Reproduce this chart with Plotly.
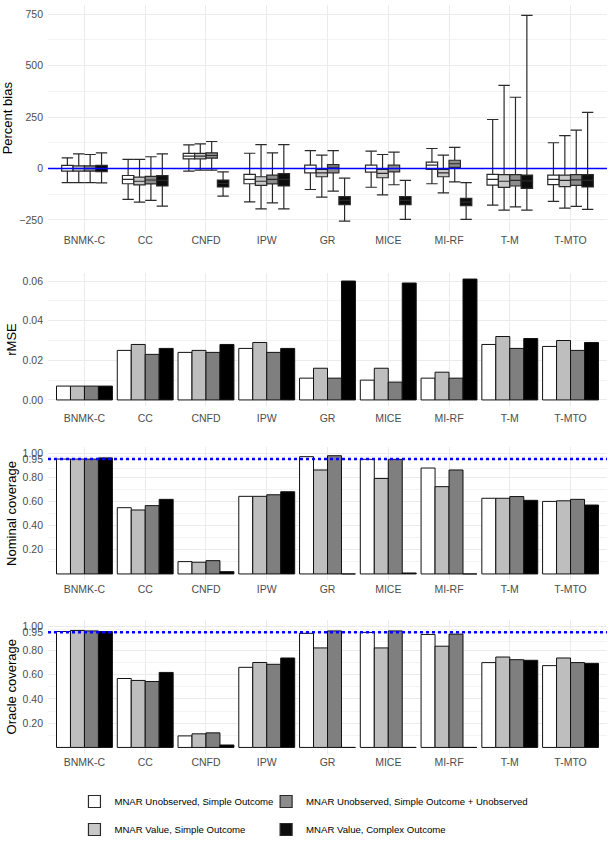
import plotly.graph_objects as go
from plotly.subplots import make_subplots

# Métodos (eixo x)
metodos = ["BNMK-C", "CC", "CNFD", "IPW", "GR", "MICE", "MI-RF", "T-M", "T-MTO"]

# Cenários
cenarios = ["MNAR Unobserved, Simple Outcome",
            "MNAR Value, Simple Outcome",
            "MNAR Unobserved, Simple Outcome + Unobserved",
            "MNAR Value, Complex Outcome"]

# Percent bias: mediana, q1, q3, whiskers
bias_med = [
    [0, -53, 60, -53, 0, 0, 16, -53, -53],
    [0, -62, 60, -62, -21, -24, -21, -62, -58],
    [0, -56, 63, -53, 6, 0, 23, -58, -55],
    [0, -58, -73, -53, -155, -155, -163, -60, -58],
]
bias_q1 = [
    [-13, -74, 47, -74, -21, -18, -5, -81, -78],
    [-13, -80, 47, -82, -40, -45, -40, -92, -88],
    [-13, -75, 50, -75, -21, -16, 5, -85, -82],
    [-15, -85, -90, -85, -175, -175, -180, -97, -90],
]
bias_q3 = [
    [15, -34, 73, -29, 16, 16, 31, -29, -32],
    [13, -42, 73, -40, -5, -5, -5, -30, -32],
    [13, -38, 76, -32, 19, 16, 40, -30, -30],
    [15, -35, -56, -25, -137, -137, -145, -32, -30],
]
bias_low = [
    [-69, -150, -13, -162, -102, -91, -74, -178, -160],
    [-69, -163, -8, -196, -139, -128, -118, -202, -192],
    [-69, -155, -8, -167, -110, -79, -65, -186, -184],
    [-70, -183, -134, -196, -256, -247, -247, -202, -199],
]
bias_high = [
    [52, 44, 115, 74, 87, 84, 97, 238, 125],
    [71, 44, 120, 116, 65, 68, 65, 404, 160],
    [68, 57, 131, 76, 87, 79, 103, 346, 186],
    [76, 71, -16, 116, -47, -58, -69, 744, 273],
]

# rRMSE
rmse = [
    [0.007, 0.025, 0.024, 0.026, 0.011, 0.010, 0.011, 0.028, 0.027],
    [0.007, 0.028, 0.025, 0.029, 0.016, 0.016, 0.014, 0.032, 0.030],
    [0.007, 0.023, 0.024, 0.024, 0.011, 0.009, 0.011, 0.026, 0.025],
    [0.007, 0.026, 0.028, 0.026, 0.060, 0.059, 0.061, 0.031, 0.029],
]

# Cobertura nominal
nominal = [
    [0.95, 0.548, 0.102, 0.642, 0.97, 0.948, 0.876, 0.626, 0.60],
    [0.95, 0.529, 0.097, 0.642, 0.86, 0.79, 0.722, 0.626, 0.605],
    [0.95, 0.565, 0.11, 0.655, 0.978, 0.948, 0.86, 0.64, 0.617],
    [0.96, 0.617, 0.019, 0.68, 0.0, 0.008, 0.0, 0.609, 0.57],
]

# Cobertura oracle
oracle = [
    [0.955, 0.568, 0.095, 0.66, 0.94, 0.948, 0.931, 0.699, 0.674],
    [0.964, 0.552, 0.112, 0.70, 0.82, 0.82, 0.834, 0.745, 0.737],
    [0.96, 0.543, 0.12, 0.685, 0.96, 0.96, 0.934, 0.723, 0.699],
    [0.955, 0.618, 0.02, 0.737, 0.0, 0.0, 0.0, 0.718, 0.693],
]

cores = ["#FFFFFF", "#BEBEBE", "#7F7F7F", "#000000"]
cores_box = ["rgba(255,255,255,0.8)", "rgba(190,190,190,0.85)",
             "rgba(127,127,127,0.9)", "rgba(0,0,0,0.95)"]
ordem_legenda = [1, 3, 2, 4]
legendas = ["legend", "legend", "legend2", "legend2"]

W, H = 613, 844
fonte = "Liberation Sans"

fig = make_subplots(rows=4, cols=1)

for i in range(4):
    fig.add_trace(go.Box(
        x=metodos, q1=bias_q1[i], median=bias_med[i], q3=bias_q3[i],
        lowerfence=bias_low[i], upperfence=bias_high[i],
        name=cenarios[i], fillcolor=cores_box[i],
        line=dict(color="#2a2a2a", width=1.2), whiskerwidth=1,
        offsetgroup=str(i), legend=legendas[i], legendrank=ordem_legenda[i],
        legendgroup=str(i), boxpoints=False, hoverinfo="skip"
    ), row=1, col=1)

for r, dados in [(2, rmse), (3, nominal), (4, oracle)]:
    for i in range(4):
        fig.add_trace(go.Bar(
            x=metodos, y=dados[i], name=cenarios[i], marker_color=cores[i],
            marker_line=dict(color="#111111", width=1), offsetgroup=str(i),
            showlegend=False, hoverinfo="skip"
        ), row=r, col=1)

# Domínios em pixels (topo, base)
paineis = [(5, 231.5), (273, 406), (447, 580), (620, 753.5)]
for k, (t, b) in enumerate(paineis, start=1):
    fig.update_yaxes(domain=[1 - b / H, 1 - t / H], row=k, col=1)

eixo_txt = dict(family=fonte, size=10.5, color="#4D4D4D")
titulo_txt = dict(family=fonte, size=13, color="#000000")

fig.update_xaxes(range=[-0.6, 8.6], showgrid=True, gridcolor="#EBEBEB", gridwidth=1,
                 zeroline=False, showline=False, ticks="", tickfont=eixo_txt,
                 ticklabelstandoff=1,
                 categoryorder="array", categoryarray=metodos)
fig.update_xaxes(row=2, col=1, ticklabelstandoff=4)
fig.update_yaxes(showgrid=True, gridcolor="#EBEBEB", gridwidth=1, zeroline=False,
                 showline=False, ticks="", tickfont=eixo_txt, ticklabelstandoff=4,
                 title_standoff=3,
                 minor=dict(showgrid=True, gridcolor="#F3F3F3", gridwidth=0.6))

fig.update_yaxes(row=1, col=1, range=[-306, 794], tickvals=[-250, 0, 250, 500, 750],
                 minor_tickvals=[-125, 125, 375, 625],
                 title=dict(text="Percent bias", font=titulo_txt))
fig.update_yaxes(row=2, col=1, range=[-0.00305, 0.06405], tickvals=[0, 0.02, 0.04, 0.06],
                 ticktext=["0.00", "0.02", "0.04", "0.06"],
                 minor_tickvals=[0.01, 0.03, 0.05],
                 title=dict(text="rMSE", font=titulo_txt))
cob_ticks = [0.2, 0.4, 0.6, 0.8, 0.95, 1.0]
cob_txt = ["0.20", "0.40", "0.60", "0.80", "0.95", "1.00"]
cob_minor = [0.1, 0.3, 0.5, 0.7, 0.875, 0.975]
fig.update_yaxes(row=3, col=1, range=[-0.05, 1.05], tickvals=cob_ticks, ticktext=cob_txt,
                 minor_tickvals=cob_minor,
                 title=dict(text="Nominal coverage", font=titulo_txt))
fig.update_yaxes(row=4, col=1, range=[-0.05, 1.05], tickvals=cob_ticks, ticktext=cob_txt,
                 minor_tickvals=cob_minor,
                 title=dict(text="Oracle coverage", font=titulo_txt))

# Linhas de referência
fig.add_shape(type="line", xref="x domain", yref="y", x0=0, x1=1, y0=0, y1=0,
              line=dict(color="#0000FF", width=1.5))
for r in (3, 4):
    fig.add_shape(type="line", xref=f"x{r} domain", yref=f"y{r}", x0=0, x1=1,
                  y0=0.95, y1=0.95, line=dict(color="#0000FF", width=2.5, dash="dot"))

leg = dict(orientation="v", xanchor="left", yanchor="top", bgcolor="rgba(0,0,0,0)",
           font=dict(family=fonte, size=9.6, color="#000000"), itemwidth=30,
           tracegroupgap=9, traceorder="grouped")
fig.update_layout(
    width=W, height=H,
    margin=dict(l=47.5, r=5.5, t=0, b=0),
    plot_bgcolor="white", paper_bgcolor="white",
    boxmode="group", boxgap=0.25, boxgroupgap=0,
    barmode="group", bargap=0.08, bargroupgap=0,
    font=dict(family=fonte),
    legend=dict(leg, x=(74 - 47.5) / 560, y=1 - 787 / H),
    legend2=dict(leg, x=(266 - 47.5) / 560, y=1 - 787 / H),
)

# sem margem do body, para a figura ficar alinhada ao canto da janela
fig.write_html("out.html", config={"displayModeBar": False},
               post_script="document.body.style.margin='0';")
